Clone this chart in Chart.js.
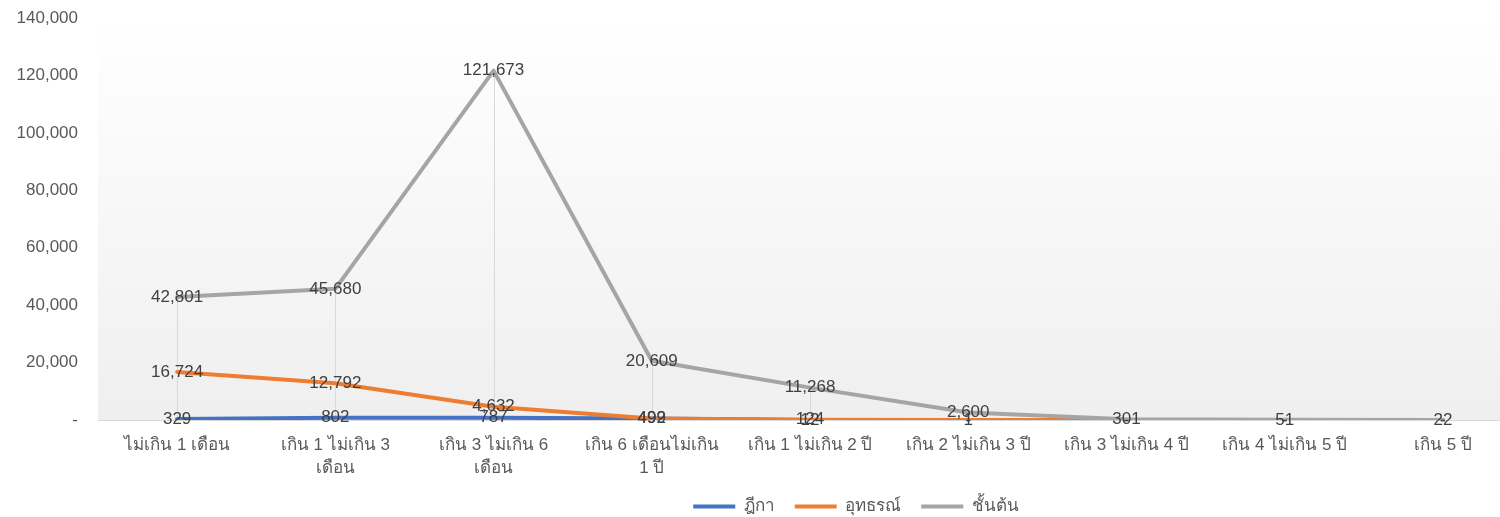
<!DOCTYPE html>
<html><head><meta charset="utf-8">
<script src="https://cdn.jsdelivr.net/npm/chart.js@4.4.1/dist/chart.umd.min.js"></script>
<style>
html,body{margin:0;padding:0;background:#fff;overflow:hidden;}
#wrap{width:1522px;height:517px;position:relative;}
</style></head><body>
<div id="wrap"><canvas id="c"></canvas></div>
<script>
const categories = [
  ['ไม่เกิน 1 เดือน'],
  ['เกิน 1 ไม่เกิน 3', 'เดือน'],
  ['เกิน 3 ไม่เกิน 6', 'เดือน'],
  ['เกิน 6 เดือนไม่เกิน', '1 ปี'],
  ['เกิน 1 ไม่เกิน 2 ปี'],
  ['เกิน 2 ไม่เกิน 3 ปี'],
  ['เกิน 3 ไม่เกิน 4 ปี'],
  ['เกิน 4 ไม่เกิน 5 ปี'],
  ['เกิน 5 ปี']
];
const seriesNames = ['ฎีกา', 'อุทธรณ์', 'ชั้นต้น'];
const dikaValues = [329, 802, 787, 492, 12, 0, 0, 0, 0];
const appealValues = [16724, 12792, 4632, 499, 124, 1, 0, 0, 0];
const firstValues = [42801, 45680, 121673, 20609, 11268, 2600, 301, 51, 22];
const yTicks = [0, 20000, 40000, 60000, 80000, 100000, 120000, 140000];

const FONT = '"Liberation Sans", "Noto Sans", sans-serif';
const fmt = v => v === 0 ? '-' : v.toLocaleString('en-US');

const bgPlugin = {
  id: 'bg',
  beforeDraw(chart) {
    const a = chart.chartArea, ctx = chart.ctx;
    const g = ctx.createLinearGradient(0, a.top, 0, a.bottom);
    g.addColorStop(0, '#ffffff');
    g.addColorStop(1, '#efefef');
    ctx.save(); ctx.fillStyle = g;
    ctx.fillRect(a.left, a.top, a.right - a.left, a.bottom - a.top);
    ctx.restore();
  },
  beforeDatasetsDraw(chart) {
    const ctx = chart.ctx, ys = chart.scales.y, xs = chart.scales.x;
    ctx.save(); ctx.strokeStyle = '#d9d9d9'; ctx.lineWidth = 1;
    categories.forEach((c, i) => {
      const mx = Math.max(...chart.data.datasets.map(d => d.data[i]));
      const x = Math.round(xs.getPixelForValue(i)) + 0.5;
      ctx.beginPath(); ctx.moveTo(x, ys.getPixelForValue(mx)); ctx.lineTo(x, ys.getPixelForValue(0)); ctx.stroke();
    });
    ctx.restore();
  },
  afterDatasetsDraw(chart) {
    const ctx = chart.ctx;
    ctx.save();
    ctx.font = '17px ' + FONT; ctx.fillStyle = '#404040';
    ctx.textAlign = 'center'; ctx.textBaseline = 'middle';
    chart.data.datasets.forEach((d, di) => {
      const meta = chart.getDatasetMeta(di);
      meta.data.forEach((p, i) => { ctx.fillText(fmt(d.data[i]), p.x, p.y); });
    });
    ctx.restore();
  },
  afterLayout(chart) {
    const lg = chart.legend;
    if (lg) { lg.left += 95; lg.right += 95; lg.top -= 16; lg.bottom -= 16; }
  }
};

new Chart(document.getElementById('c'), {
  type: 'line',
  data: {
    labels: categories,
    datasets: [
      { label: seriesNames[0], data: dikaValues, borderColor: '#4472C4', backgroundColor: '#4472C4', borderWidth: 4, order: 2 },
      { label: seriesNames[1], data: appealValues, borderColor: '#ED7D31', backgroundColor: '#ED7D31', borderWidth: 4, order: 1 },
      { label: seriesNames[2], data: firstValues, borderColor: '#A5A5A5', backgroundColor: '#A5A5A5', borderWidth: 4, order: 0 }
    ]
  },
  options: {
    responsive: true, maintainAspectRatio: false, animation: false,
    layout: { padding: { top: 18, left: 0, right: 0, bottom: -24 } },
    elements: { line: { borderWidth: 4, tension: 0, borderCapStyle: 'round', borderJoinStyle: 'round' }, point: { radius: 0, hoverRadius: 0 } },
    plugins: {
      tooltip: { enabled: false },
      legend: {
        position: 'bottom',
        labels: {
          usePointStyle: true, pointStyle: 'line', pointStyleWidth: 42, boxWidth: 42, boxHeight: 3,
          padding: 20, color: '#595959', font: { size: 17, family: FONT },
          sort: (a, b) => a.datasetIndex - b.datasetIndex
        }
      }
    },
    scales: {
      x: {
        offset: true,
        grid: { display: false, offset: true },
        border: { display: true, color: '#d9d9d9', width: 1 },
        ticks: { color: '#595959', font: { size: 17, family: FONT, lineHeight: 1.35 }, maxRotation: 0, autoSkip: false, padding: 6 },
        afterFit(s) { s.height = 74; }
      },
      y: {
        min: 0, max: 140000,
        afterBuildTicks(s) { s.ticks = yTicks.map(v => ({ value: v })); },
        grid: { display: false, drawTicks: false },
        border: { display: false },
        ticks: { color: '#595959', font: { size: 17, family: FONT }, padding: 20, callback: v => fmt(v) },
        afterFit(s) { s.width = 98; s.paddingTop = 0; s.paddingBottom = 0; }
      }
    }
  },
  plugins: [bgPlugin]
});
</script>
</body></html>
